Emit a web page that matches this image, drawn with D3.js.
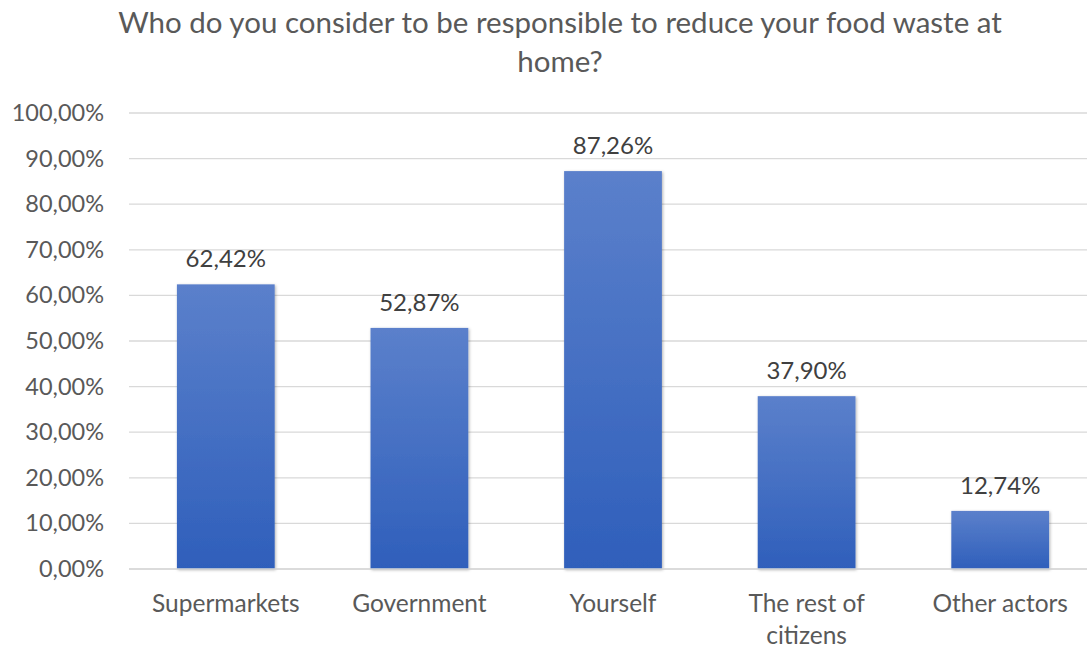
<!DOCTYPE html>
<html>
<head>
<meta charset="utf-8">
<script src="https://cdn.jsdelivr.net/npm/d3@7"></script>
<style>
  body { margin: 0; background: #fff; }
  text { font-family: Lato, "Open Sans", sans-serif; }
</style>
</head>
<body>
<svg id="chart"></svg>
<script>
// chart data
var categories = ["Supermarkets", "Government", "Yourself", "The rest of citizens", "Other actors"];
var values = [62.42, 52.87, 87.26, 37.90, 12.74];
var yTicks = [0, 10, 20, 30, 40, 50, 60, 70, 80, 90, 100];
var titleLines = ["Who do you consider to be responsible to reduce your food waste at", "home?"];

var width = 1087,
    height = 648;
var margin = {top: 113, right: -10, bottom: 79, left: 129};

var svg = d3.select("#chart")
    .attr("width", width)
    .attr("height", height);

var defs = svg.append("defs");
var grad = defs.append("linearGradient")
    .attr("id", "barGrad")
    .attr("x1", 0).attr("y1", 0).attr("x2", 0).attr("y2", 1);
grad.append("stop").attr("offset", "0%").attr("stop-color", "#5b80cb");
grad.append("stop").attr("offset", "100%").attr("stop-color", "#2f5fbb");

var shadow = defs.append("filter").attr("id", "shadow")
    .attr("x", "-10%").attr("y", "-10%").attr("width", "120%").attr("height", "120%");
shadow.append("feDropShadow")
    .attr("dx", 1).attr("dy", 1).attr("stdDeviation", 1.5)
    .attr("flood-color", "#000").attr("flood-opacity", 0.3);

var x = d3.scaleBand()
    .domain(categories)
    .range([margin.left, width - margin.right])
    .paddingInner(0.495)
    .paddingOuter(0.2475);

var y = d3.scaleLinear()
    .domain([0, 100])
    .range([height - margin.bottom, margin.top]);

// gridlines
svg.append("g")
    .selectAll("line")
    .data(yTicks)
    .enter()
    .append("line")
    .attr("x1", margin.left)
    .attr("x2", width)
    .attr("y1", function (d) { return y(d); })
    .attr("y2", function (d) { return y(d); })
    .attr("stroke", "#d9d9d9")
    .attr("stroke-width", 1.3);

// y axis labels
var yAxis = d3.axisLeft(y)
    .tickValues(yTicks)
    .tickSize(0)
    .tickPadding(0)
    .tickFormat(function (d) { return d3.format(".2f")(d).replace(".", ",") + "%"; });

svg.append("g")
    .attr("transform", "translate(" + 104 + ",0)")
    .call(yAxis)
    .call(function (g) { g.select(".domain").remove(); })
    .selectAll("text")
    .attr("font-size", 23.5)
    .attr("fill", "#595959")
    .attr("font-family", "Lato, 'Open Sans', sans-serif");

// bars
svg.append("g")
    .selectAll("rect")
    .data(values)
    .enter()
    .append("rect")
    .attr("x", function (d, i) { return x(categories[i]); })
    .attr("y", function (d) { return y(d); })
    .attr("width", x.bandwidth())
    .attr("height", function (d) { return y(0) - y(d); })
    .attr("fill", "url(#barGrad)")
    .attr("filter", "url(#shadow)");

// data labels
svg.append("g")
    .selectAll("text")
    .data(values)
    .enter()
    .append("text")
    .attr("x", function (d, i) { return x(categories[i]) + x.bandwidth() / 2; })
    .attr("y", function (d) { return y(d) - 17; })
    .attr("text-anchor", "middle")
    .attr("font-size", 24)
    .attr("fill", "#404040")
    .text(function (d) { return d3.format(".2f")(d).replace(".", ",") + "%"; });

// baseline
svg.append("line")
    .attr("x1", margin.left).attr("x2", width)
    .attr("y1", y(0)).attr("y2", y(0))
    .attr("stroke", "#d9d9d9")
    .attr("stroke-width", 1.3);

// category labels (wrapped like the original)
var xLabels = svg.append("g")
    .selectAll("text")
    .data(categories)
    .enter()
    .append("text")
    .attr("x", function (d) { return x(d) + x.bandwidth() / 2; })
    .attr("y", 612)
    .attr("text-anchor", "middle")
    .attr("font-size", 24.5)
    .attr("fill", "#595959");

xLabels.each(function (d) {
    var lines = d === "The rest of citizens" ? ["The rest of", "citizens"] : [d];
    var t = d3.select(this);
    lines.forEach(function (l, i) {
        t.append("tspan")
            .attr("x", t.attr("x"))
            .attr("dy", i === 0 ? 0 : 32)
            .text(l);
    });
});

// title
svg.append("g")
    .selectAll("text")
    .data(titleLines)
    .enter()
    .append("text")
    .attr("x", 560)
    .attr("y", function (d, i) { return 33 + i * 39; })
    .attr("text-anchor", "middle")
    .attr("font-size", 29.5)
    .attr("fill", "#595959")
    .text(function (d) { return d; });
</script>
</body>
</html>
